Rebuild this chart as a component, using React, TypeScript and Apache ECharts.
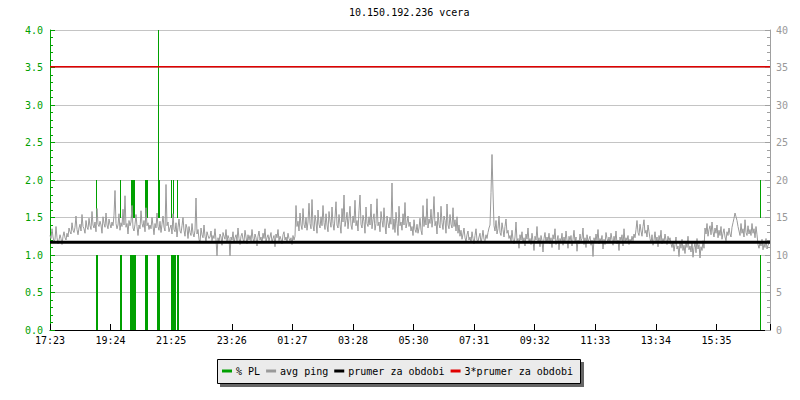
import React, { useEffect, useRef } from "react";
import * as echarts from "echarts";

// ---------- data ----------
const chartTitle = "10.150.192.236 vcera";
const tickLabels = ["17:23", "19:24", "21:25", "23:26", "01:27", "03:28", "05:30", "07:31", "09:32", "11:33", "13:34", "15:35"];
const tickIntervalMin = 121.17;
const spanMin = 1440;

// avg ping [ms], one value every 2 minutes from 17:23
const pingStepMin = 2;
const pingMs = [
  12.6, 12.2, 13.5, 12.4, 11.8, 12.1, 13.8, 12.3, 11.5, 12.0, 12.7, 12.2, 11.4, 12.5, 13.1, 12.3, 12.0, 12.9, 12.4, 13.6,
  13.1, 12.8, 14.3, 13.3, 13.0, 13.7, 15.2, 13.4, 12.7, 13.6, 14.1, 13.2, 15.4, 13.8, 13.5, 12.9, 14.6, 13.7, 13.4, 14.9,
  13.9, 13.4, 15.8, 14.0, 13.6, 14.4, 13.1, 16.2, 14.1, 13.8, 14.5, 14.0, 12.9, 15.1, 14.2, 13.7, 15.6, 14.0, 13.5, 14.8,
  14.1, 13.6, 14.4, 13.9, 15.3, 18.6, 14.2, 13.5, 14.0, 15.5, 13.3, 14.3, 13.8, 16.1, 14.0, 17.9, 13.7, 14.2, 12.8, 14.6,
  13.9, 14.4, 16.6, 13.6, 13.2, 14.1, 15.4, 13.8, 12.6, 14.0, 13.5, 15.9, 14.2, 13.7, 14.6, 13.1, 16.3, 13.9, 14.3, 13.4,
  14.0, 13.5, 15.0, 13.9, 12.7, 14.2, 13.6, 15.6, 13.8, 13.3, 14.5, 13.0, 14.1, 15.2, 13.7, 13.2, 19.4, 13.9, 14.4, 13.1,
  13.6, 14.0, 12.8, 15.5, 13.4, 13.1, 14.3, 12.4, 13.7, 14.8, 13.2, 12.9, 13.9, 15.0, 13.3, 12.5, 14.1, 13.6, 12.2, 13.8,
  13.0, 12.6, 14.2, 12.9, 12.4, 13.3, 17.6, 12.8, 13.4, 12.1, 11.6, 13.6, 12.7, 12.3, 14.0, 12.5, 11.8, 13.1, 12.6, 12.2,
  12.4, 13.2, 11.9, 12.6, 12.2, 13.5, 12.0, 9.9, 12.3, 11.7, 12.8, 12.4, 11.3, 13.0, 12.5, 12.1, 13.4, 11.8, 12.6, 12.2,
  9.9, 12.4, 12.0, 13.1, 11.6, 12.3, 12.7, 11.9, 13.6, 12.2, 11.4, 12.5, 12.9, 12.1, 11.8, 13.3, 12.4, 11.5, 12.7, 12.0,
  12.6, 11.9, 13.4, 12.2, 11.7, 12.8, 12.3, 11.2, 12.5, 13.2, 12.0, 12.4, 11.6, 12.9, 12.2, 13.5, 11.8, 12.3, 12.7, 11.9,
  12.4, 13.0, 11.7, 12.2, 12.6, 11.1, 12.8, 12.3, 13.4, 11.9, 12.5, 12.1, 11.5, 12.7, 13.1, 12.0, 12.4, 11.8, 12.9, 12.2,
  11.9, 12.3, 11.4, 12.6, 12.0, 12.5, 16.6, 13.8, 14.5, 13.2, 15.6, 14.0, 13.4, 16.2, 14.1, 13.6, 15.0, 13.3, 14.4, 16.9,
  14.2, 13.5, 17.4, 14.0, 13.2, 15.3, 14.4, 12.9, 16.0, 14.1, 13.6, 15.1, 13.9, 16.6, 14.3, 13.4, 15.5, 14.0, 13.1, 15.8,
  14.5, 13.7, 16.4, 14.2, 13.3, 15.0, 17.1, 14.0, 13.6, 15.4, 14.1, 12.9, 16.2, 14.4, 18.0, 13.8, 14.6, 15.7, 13.5, 14.9,
  16.5, 14.0, 13.4, 15.2, 14.3, 17.3, 13.9, 14.6, 13.2, 15.9, 18.0, 14.1, 13.6, 15.3, 14.5, 12.9, 16.4, 14.2, 13.8, 15.1,
  14.0, 16.8, 13.5, 14.7, 15.5, 13.3, 14.2, 17.5, 13.9, 14.4, 13.1, 15.8, 14.6, 13.7, 16.3, 14.0, 12.8, 15.2, 14.3, 13.6,
  15.0, 14.1, 19.6, 13.4, 14.8, 13.0, 15.7, 14.2, 12.6, 16.5, 13.9, 14.4, 13.3, 15.5, 14.0, 17.0, 13.6, 14.3, 15.2, 13.8,
  14.4, 13.2, 13.8, 12.6, 14.7, 13.4, 13.0, 14.1, 12.9, 13.6, 14.9, 13.3, 12.7, 16.6, 13.8, 15.1, 14.0, 17.5, 13.6, 14.8,
  14.2, 16.1, 13.7, 15.0, 17.8, 13.9, 14.5, 12.8, 15.7, 14.1, 13.6, 16.5, 14.3, 13.4, 15.2, 14.6, 12.9, 16.8, 14.0, 13.5,
  15.4, 14.1, 13.6, 16.3, 13.8, 14.7, 13.2, 15.1, 12.9, 14.0, 12.5, 13.3, 12.1, 12.8, 13.6, 12.3, 11.8, 12.7, 13.2, 12.0,
  12.4, 11.7, 13.1, 12.2, 11.5, 12.6, 13.5, 12.0, 11.8, 12.4, 12.9, 11.6, 12.3, 13.3, 12.1, 11.9, 12.7, 12.2, 13.0, 13.6,
  14.0, 18.3, 23.4, 18.4, 13.9, 13.2, 14.6, 12.8, 13.5, 15.2, 13.0, 12.6, 14.3, 13.4, 12.4, 13.8, 14.8, 12.9, 13.3, 12.2,
  12.6, 11.8, 13.3, 12.1, 11.5, 12.4, 14.4, 11.9, 12.2, 10.9, 12.7, 12.0, 13.1, 11.6, 12.3, 11.2, 12.8, 12.1, 13.6, 11.7,
  12.2, 11.4, 12.9, 11.9, 10.6, 12.5, 12.0, 13.8, 11.7, 12.3, 11.1, 12.6, 11.9, 10.4, 12.2, 13.0, 11.6, 12.4, 11.8, 12.9,
  11.5, 12.3, 11.0, 12.7, 12.1, 13.5, 11.4, 11.9, 12.6, 10.7, 12.2, 11.8, 12.9, 11.3, 12.4, 11.6, 13.2, 12.0, 10.9, 12.5,
  11.9, 12.6, 11.2, 12.1, 13.3, 11.7, 12.4, 10.5, 12.0, 11.5, 12.8, 11.9, 12.2, 13.6, 11.4, 12.3, 11.0, 12.7, 11.8, 12.1,
  12.5, 11.3, 12.0, 9.8, 12.3, 11.6, 12.8, 11.9, 13.4, 11.5, 12.2, 11.8, 12.6, 10.8, 12.1, 11.4, 13.0, 12.2, 11.7, 12.4,
  11.6, 12.9, 12.1, 11.3, 12.5, 11.8, 13.2, 11.5, 12.0, 10.6, 12.4, 11.9, 12.7, 11.2, 13.5, 11.7, 12.3, 11.9, 12.6, 11.4,
  12.1, 11.7, 12.5, 11.9, 12.8, 12.3, 13.4, 14.6, 13.0, 12.6, 14.1, 13.2, 12.5, 13.8, 14.7, 12.9, 13.3, 12.4, 14.0, 13.1,
  12.2, 11.6, 12.7, 11.3, 12.0, 13.1, 11.8, 12.4, 11.1, 12.6, 11.9, 13.3, 11.5, 12.2, 11.7, 12.8, 12.0, 11.4, 12.5, 11.9,
  12.3, 11.5, 11.0, 11.8, 10.5, 11.4, 12.4, 10.8, 11.2, 9.8, 11.6, 10.9, 12.1, 10.6, 11.3, 10.2, 11.7, 11.0, 12.5, 10.7,
  11.2, 10.4, 11.8, 9.7, 11.0, 11.6, 10.3, 12.2, 10.8, 11.4, 9.6, 11.1, 10.6, 11.9, 10.9, 13.6, 12.8, 14.2, 12.5, 13.4,
  13.9, 12.7, 14.4, 13.1, 12.4, 13.6, 12.9, 14.0, 12.3, 13.3, 12.6, 13.8, 12.1, 12.9, 13.5, 12.4, 11.9, 13.1, 12.6, 13.6,
  12.8, 12.4, 13.7, 14.3, 14.9, 15.6, 15.1, 14.6, 13.8, 13.2, 12.6, 14.2, 12.9, 13.5, 12.4, 14.7, 13.0, 12.6, 13.9, 12.8,
  13.4, 12.6, 14.2, 12.9, 13.5, 12.3, 13.8, 12.7, 11.4, 10.9, 11.7, 11.2, 12.1, 10.7, 11.5, 11.0, 12.2, 10.8, 11.3, 11.6,
];

// packet loss [%] : minute offsets from 17:23 and values
const plMinutes = [92, 93, 140, 141, 160, 161, 162, 163, 164, 165, 166, 167, 168, 169, 190, 191, 192, 193, 194, 214, 215, 216, 217, 242, 243, 244, 245, 246, 247, 248, 249, 250, 253, 254, 255, 256, 1419, 1420];
const plValues = [2, 1, 2, 1, 1, 2, 2, 2, 2, 2, 2, 2, 2, 1, 2, 2, 2, 2, 1, 1, 2, 4, 2, 2, 1, 1, 1, 2, 1, 1, 1, 1, 1, 2, 1, 1, 2, 1];

const periodAvgMs = 11.7;

// ---------- styles ----------
const FONT = "DejaVu Sans Mono";
const GREEN = "#00a000";
const GREY = "#9a9a9a";
const RED = "#e00000";

export default function App() {
  const ref = useRef<HTMLDivElement>(null);

  useEffect(() => {
    if (!ref.current) return;
    const chart = echarts.init(ref.current, null, { renderer: "svg" });

    const pingData = pingMs.map((v, i) => [i * pingStepMin, v]);
    const avgData = [[0, periodAvgMs], [spanMin, periodAvgMs]];
    const tripleData = [[0, 3 * periodAvgMs], [spanMin, 3 * periodAvgMs]];
    const plData = plMinutes.map((m, i) => [m, plValues[i]]);

    const renderPL = (params: any, api: any) => {
      const m = api.value(0);
      const v = api.value(1);
      const children: any[] = [];
      const seg = (lo: number, hi: number) => {
        const a = api.coord([m, lo]);
        const b = api.coord([m, hi]);
        children.push({
          type: "rect",
          shape: { x: Math.round(a[0]), y: Math.round(b[1]), width: 1, height: Math.round(a[1]) - Math.round(b[1]) },
          style: { fill: GREEN },
        });
      };
      seg(0, Math.min(v, 1));
      if (v > 1.5) seg(1.5, v);
      return { type: "group", children };
    };

    const option: any = {
      animation: false,
      backgroundColor: "#ffffff",
      title: {
        text: chartTitle,
        left: 349,
        top: 7,
        padding: 0,
        textStyle: { fontFamily: FONT, fontSize: 10, fontWeight: "normal", color: "#000" },
      },
      grid: { left: 50, right: 30, top: 30, bottom: 70, containLabel: false },
      graphic: [
        { type: "rect", z: 0, shape: { x: 220, y: 362, width: 364, height: 25 }, style: { fill: "#666666" } },
        { type: "rect", z: 1, shape: { x: 217.5, y: 359.5, width: 363, height: 24 }, style: { fill: "#ebebeb", stroke: "#000", lineWidth: 1 } },
      ],
      legend: {
        left: 222,
        top: 366,
        padding: 0,
        itemWidth: 10,
        itemHeight: 3,
        itemGap: 6,
        icon: "rect",
        selectedMode: false,
        z: 10,
        data: ["% PL", "avg ping", "prumer za obdobi", "3*prumer za obdobi"],
        textStyle: { fontFamily: FONT, fontSize: 10, color: "#000", padding: [0, 0, 0, -1] },
      },
      xAxis: {
        type: "value",
        min: 0,
        max: spanMin,
        interval: tickIntervalMin,
        axisLine: { lineStyle: { color: "#000", width: 1 } },
        axisTick: { inside: true, length: 6, lineStyle: { color: "#000" } },
        splitLine: { show: false },
        showMaxLabel: false,
        axisLabel: {
          margin: 5,
          fontFamily: FONT,
          fontSize: 10,
          color: "#000",
          formatter: (v: number) => {
            const k = Math.round(v / tickIntervalMin);
            return Math.abs(k * tickIntervalMin - v) < 0.01 && tickLabels[k] ? tickLabels[k] : "";
          },
        },
      },
      yAxis: [
        {
          type: "value",
          min: 0,
          max: 4,
          interval: 0.5,
          position: "left",
          axisLine: { show: true, lineStyle: { color: GREEN, width: 1 } },
          axisTick: { show: true, inside: true, length: 5, lineStyle: { color: GREEN } },
          minorTick: { show: true, splitNumber: 5, length: 3, lineStyle: { color: GREEN } },
          splitLine: { show: true, lineStyle: { color: "#c4c4c4", width: 1 } },
          axisLabel: {
            margin: 7,
            fontFamily: FONT,
            fontSize: 10,
            color: GREEN,
            formatter: (v: number) => v.toFixed(1),
          },
        },
        {
          type: "value",
          min: 0,
          max: 40,
          interval: 5,
          position: "right",
          axisLine: { show: true, lineStyle: { color: "#a0a0a0", width: 1 } },
          axisTick: { show: true, inside: true, length: 5, lineStyle: { color: "#a0a0a0" } },
          minorTick: { show: true, splitNumber: 5, length: 3, lineStyle: { color: "#a0a0a0" } },
          splitLine: { show: false },
          axisLabel: { margin: 6, fontFamily: FONT, fontSize: 10, color: "#999" },
        },
      ],
      series: [
        {
          name: "% PL",
          type: "custom",
          yAxisIndex: 0,
          color: GREEN,
          itemStyle: { color: GREEN },
          encode: { x: 0, y: 1 },
          renderItem: renderPL,
          data: plData,
          z: 1,
        },
        {
          name: "avg ping",
          type: "line",
          yAxisIndex: 1,
          color: GREY,
          showSymbol: false,
          symbol: "none",
          lineStyle: { color: GREY, width: 1 },
          data: pingData,
          z: 2,
        },
        {
          name: "prumer za obdobi",
          type: "line",
          yAxisIndex: 1,
          color: "#000",
          symbol: "none",
          lineStyle: { color: "#000", width: 3 },
          data: avgData,
          z: 3,
        },
        {
          name: "3*prumer za obdobi",
          type: "line",
          yAxisIndex: 1,
          color: RED,
          symbol: "none",
          lineStyle: { color: RED, width: 1.5 },
          data: tripleData,
          z: 3,
        },
      ],
    };

    chart.setOption(option);
    return () => chart.dispose();
  }, []);

  return (
    <div
      ref={ref}
      style={{ position: "fixed", left: 0, top: 0, width: 800, height: 400, background: "#fff" }}
    />
  );
}
